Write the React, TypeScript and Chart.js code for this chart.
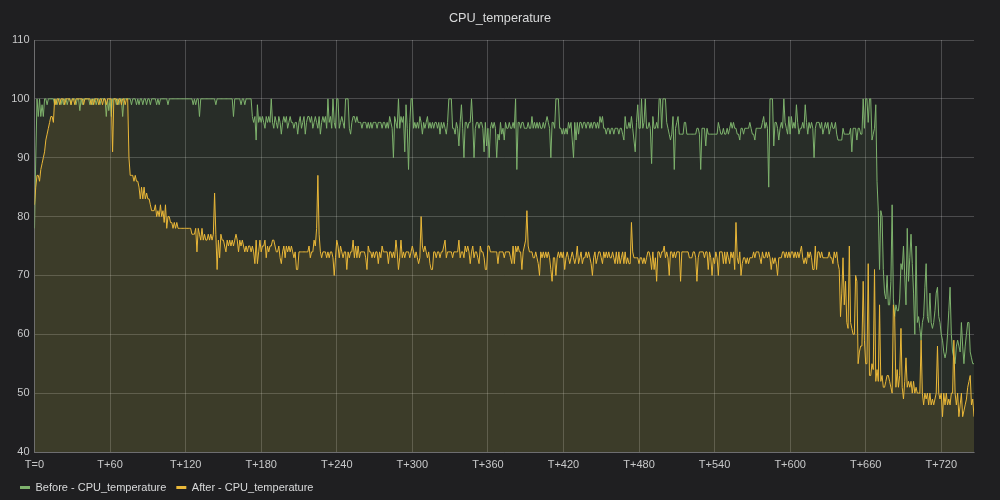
import { useEffect, useRef } from "react";
import { Chart, registerables } from "chart.js";

Chart.register(...registerables);

const TITLE = "CPU_temperature";
const SERIES_NAMES = ["Before - CPU_temperature", "After - CPU_temperature"];
const X_MAX = 746;
const X_STEP = 60;
const Y_MIN = 40;
const Y_MAX = 110;
const Y_STEP = 10;

// Before - CPU_temperature (one value per second, T=0 .. T+746)
const BEFORE: number[] = [
  78,90,100,97,100,97,99,97,100,100,
  99,100,100,100,100,100,99,100,99,100,
  100,99,100,99,100,100,99,100,100,99,
  100,100,100,99,100,100,98,100,99,100,
  100,100,100,100,99,100,99,100,100,99,
  100,100,99,100,100,100,100,97,100,98,
  100,97,100,100,100,99,100,99,100,100,
  97,100,100,100,100,100,100,99,100,100,
  100,99,100,99,100,100,99,100,100,99,
  100,100,99,100,100,100,100,99,100,99,
  100,100,100,100,100,100,99,100,100,100,
  100,100,100,100,100,100,100,100,100,100,
  100,100,100,100,100,100,99,100,99,100,
  100,97,100,100,100,100,100,100,100,100,
  100,100,100,100,99,100,100,100,100,100,
  100,100,100,100,100,100,100,100,97,100,
  100,100,100,100,99,100,100,99,100,100,
  100,100,100,97,96,97,93,99,96,97,
  96,97,96,95,97,96,97,96,100,96,
  95,97,96,95,97,96,94,96,97,96,
  97,95,96,97,96,96,95,96,96,94,
  96,97,95,96,97,94,96,97,97,96,
  97,95,96,97,96,95,97,94,96,97,
  96,97,95,100,96,97,95,100,96,95,
  100,100,95,96,97,96,95,100,100,100,
  95,94,96,97,97,96,97,96,96,96,
  95,96,96,96,95,96,95,96,95,96,
  96,96,95,96,96,96,95,96,96,95,
  96,95,97,96,95,90,97,96,95,100,
  95,97,96,97,91,99,95,88,96,100,
  100,95,96,95,96,95,97,96,94,96,
  95,96,97,95,96,95,96,95,96,96,
  95,96,94,96,95,96,95,94,96,100,
  100,100,95,95,94,96,95,92,96,99,
  95,90,96,96,95,96,96,100,96,90,
  95,96,96,95,96,96,95,91,96,92,
  95,90,95,96,95,96,95,90,94,93,
  96,94,95,93,96,95,95,96,95,95,
  96,95,100,88,96,96,95,96,96,95,
  95,95,96,95,95,97,95,96,95,96,
  95,96,95,95,96,95,96,97,96,95,
  90,96,96,95,100,100,100,95,95,94,
  95,94,95,94,96,95,96,93,90,96,
  93,96,94,96,96,95,96,96,95,96,
  96,95,96,95,96,96,95,96,95,97,
  96,97,95,95,94,95,95,94,95,95,
  94,95,95,95,94,95,95,94,93,97,
  95,95,96,95,97,95,93,91,96,99,
  95,95,100,95,96,100,95,95,96,95,
  89,97,95,95,96,95,100,100,95,100,
  100,100,96,95,94,93,94,97,88,95,
  96,97,94,94,94,94,96,96,94,94,
  94,94,94,94,94,94,95,95,94,88,
  95,95,95,92,95,94,94,94,94,94,
  94,94,94,96,95,94,94,95,94,94,
  95,94,95,96,95,96,95,95,94,94,
  93,95,95,94,95,95,95,95,96,95,
  94,94,93,95,95,95,95,95,96,97,
  95,96,95,85,100,100,100,92,96,96,
  95,93,95,96,95,100,96,95,94,97,
  94,97,95,96,95,99,96,94,95,95,
  96,95,99,96,94,96,95,96,95,90,
  95,96,96,96,95,96,94,95,96,95,
  96,94,95,96,95,95,96,94,93,93,
  93,93,95,94,94,94,94,94,95,91,
  95,95,95,93,95,95,94,94,100,95,
  100,100,96,100,100,93,94,95,99,86,
  81,71,81,80,71,67,66,70,65,65,
  69,82,66,63,65,64,64,66,72,71,
  75,70,65,78,69,73,77,72,67,60,
  75,62,63,61,59,62,63,68,72,63,
  62,67,62,61,62,64,67,68,63,62,
  60,59,57,56,57,60,64,68,60,57,
  56,55,58,59,58,57,62,58,55,58,
  60,62,62,57,56,55,55,
];

// After - CPU_temperature (one value per second, T=0 .. T+746)
const AFTER: number[] = [
  82,85,87,87,86,88,89,90,91,93,
  94,95,96,97,97,96,100,99,100,100,
  99,100,100,100,99,100,100,100,100,99,
  100,100,99,100,100,100,100,100,100,99,
  100,100,100,100,100,99,100,99,100,100,
  100,99,100,100,99,100,100,99,100,100,
  100,100,91,100,100,100,99,100,100,99,
  100,100,99,100,100,90,87,87,87,86,
  87,86,86,85,83,85,83,85,83,84,
  83,83,82,81,81,81,82,80,81,80,
  82,80,81,79,82,78,80,80,79,79,
  78,79,78,79,78,78,78,78,78,78,
  78,78,78,78,78,77,77,77,78,74,
  78,77,76,78,76,77,76,76,77,76,
  77,76,77,84,77,71,76,73,77,76,
  76,75,74,76,75,76,75,76,75,76,
  77,76,74,76,75,76,75,74,75,74,
  75,75,74,75,74,72,76,72,74,76,
  74,75,75,76,73,75,74,75,75,76,
  76,75,74,74,75,73,72,74,75,73,
  75,74,75,74,75,74,73,74,71,71,
  74,74,74,74,74,74,74,74,75,73,
  74,74,76,75,78,87,77,74,73,74,
  74,74,73,74,73,74,74,73,70,73,
  76,75,73,75,74,73,74,74,71,74,
  73,74,74,76,73,75,73,75,73,74,
  74,74,74,73,71,75,74,74,73,74,
  73,74,74,72,74,73,75,74,74,74,
  74,72,74,74,73,74,73,76,74,71,
  73,76,73,74,73,74,74,74,73,74,
  75,74,73,74,73,72,73,80,75,74,
  75,74,73,74,72,71,71,74,74,73,
  74,74,73,74,74,75,76,73,74,74,
  74,74,73,74,74,74,74,76,73,74,
  74,73,75,74,75,74,72,74,75,73,
  74,74,73,72,75,74,74,73,71,71,
  75,75,74,74,74,74,74,74,72,74,
  74,74,74,73,74,74,74,74,73,72,
  75,72,75,74,75,74,74,71,74,75,
  76,81,75,74,74,74,73,73,74,73,
  72,70,74,73,74,73,74,73,74,73,
  71,69,73,73,70,73,74,73,74,73,
  74,71,73,74,73,72,73,74,73,72,
  73,75,72,73,74,72,73,73,74,73,
  74,73,72,70,73,74,72,73,74,74,
  73,72,74,73,74,73,74,73,73,74,
  73,72,74,72,74,72,73,74,72,74,
  72,73,72,72,79,74,73,73,73,73,
  72,73,73,72,73,72,73,74,74,73,
  71,74,71,73,69,74,74,73,74,74,
  75,73,74,73,70,74,74,73,74,73,
  74,74,74,69,74,74,74,74,74,74,
  73,73,73,74,74,73,69,73,74,74,
  74,74,73,74,74,71,74,73,70,73,
  72,74,73,70,74,74,74,72,74,72,
  74,73,72,74,73,74,71,79,73,72,
  74,70,72,73,73,72,73,72,73,73,
  73,74,73,74,74,74,73,72,74,73,
  73,74,73,74,73,71,73,72,73,72,
  70,73,73,73,74,74,73,74,73,74,
  73,74,74,73,74,73,74,73,74,75,
  73,72,73,72,74,73,74,73,71,71,
  75,71,74,74,73,74,73,73,73,73,
  73,74,73,73,72,74,73,74,72,71,
  63,67,73,65,69,62,61,75,62,61,
  60,60,70,69,55,57,58,58,69,59,
  55,55,72,53,53,55,54,71,52,54,
  52,65,52,53,51,51,52,53,53,52,
  51,50,65,63,51,54,51,53,61,51,
  49,52,56,51,52,51,52,50,52,50,
  51,50,50,50,59,50,48,50,49,50,
  48,50,48,49,48,49,50,58,50,49,
  50,46,50,48,50,48,49,48,50,50,
  59,50,48,50,46,48,50,46,47,48,
  49,51,52,53,48,49,46,
];

const TIMES: number[] = BEFORE.map((_, i) => i);

const BG = "#1f1f21";
const TEXT = "#d8d9da";
const TICK = "#c8c9ca";
const GRID = "rgba(255,255,255,0.2)";
const GREEN = "#7EB26D";
const ORANGE = "#EAB839";
const FONT = '"Liberation Sans", Helvetica, Arial, sans-serif';

export default function App() {
  const ref = useRef<HTMLCanvasElement | null>(null);

  useEffect(() => {
    document.body.style.margin = "0";
    document.body.style.background = BG;
    const canvas = ref.current;
    if (!canvas) return;
    const chart = new Chart(canvas, {
      type: "line",
      data: {
        datasets: [
          {
            label: SERIES_NAMES[0],
            data: TIMES.map((t, i) => ({ x: t, y: BEFORE[i] })),
            borderColor: GREEN,
            backgroundColor: "rgba(126,178,109,0.1)",
            fill: "origin",
            borderWidth: 1,
            pointRadius: 0,
            tension: 0,
            order: 1,
          },
          {
            label: SERIES_NAMES[1],
            data: TIMES.map((t, i) => ({ x: t, y: AFTER[i] })),
            borderColor: ORANGE,
            backgroundColor: "rgba(234,184,57,0.1)",
            fill: "origin",
            borderWidth: 1,
            pointRadius: 0,
            tension: 0,
            order: 0,
          },
        ],
      },
      options: {
        animation: false,
        responsive: true,
        maintainAspectRatio: false,
        layout: { padding: { left: 10, right: 10, top: 0, bottom: 0 } },
        plugins: {
          title: {
            display: true,
            text: TITLE,
            color: TEXT,
            font: { family: FONT, size: 12.7, weight: "normal" },
            padding: { top: 10.5, bottom: 14.26 },
          },
          legend: {
            position: "bottom",
            align: "start",
            maxHeight: 28,
            labels: {
              color: TEXT,
              font: { family: FONT, size: 11 },
              boxWidth: 10,
              boxHeight: 3,
              padding: 10,
              generateLabels: (c: any) =>
                c.data.datasets.map((ds: any, i: number) => ({
                  text: ds.label,
                  fillStyle: ds.borderColor,
                  strokeStyle: ds.borderColor,
                  lineWidth: 0,
                  hidden: false,
                  datasetIndex: i,
                  fontColor: TEXT,
                })),
            },
          },
          tooltip: { enabled: false },
        },
        scales: {
          x: {
            type: "linear",
            min: 0,
            max: X_MAX,
            grid: { color: GRID, drawTicks: false },
            border: { color: GRID },
            ticks: {
              stepSize: X_STEP,
              includeBounds: false,
              color: TICK,
              font: { family: FONT, size: 11 },
              padding: 6,
              maxRotation: 0,
              autoSkip: false,
              callback: (v: any) => (Number(v) === 0 ? "T=0" : "T+" + v),
            },
            afterFit: (s: any) => {
              s.height = 20;
            },
          },
          y: {
            min: Y_MIN,
            max: Y_MAX,
            grid: { color: GRID, drawTicks: false },
            border: { color: GRID },
            ticks: {
              stepSize: Y_STEP,
              color: TICK,
              font: { family: FONT, size: 11 },
              padding: 5,
            },
            afterFit: (s: any) => {
              s.width = 24.5;
            },
          },
          yRight: {
            position: "right",
            display: true,
            grid: { display: false },
            border: { display: false },
            ticks: { display: false },
            afterFit: (s: any) => {
              s.width = 16;
            },
          },
        },
      },
    } as any);
    return () => chart.destroy();
  }, []);

  return (
    <div
      style={{
        position: "fixed",
        left: 0,
        top: 0,
        width: 1000,
        height: 500,
        background: BG,
      }}
    >
      <canvas ref={ref} />
    </div>
  );
}
